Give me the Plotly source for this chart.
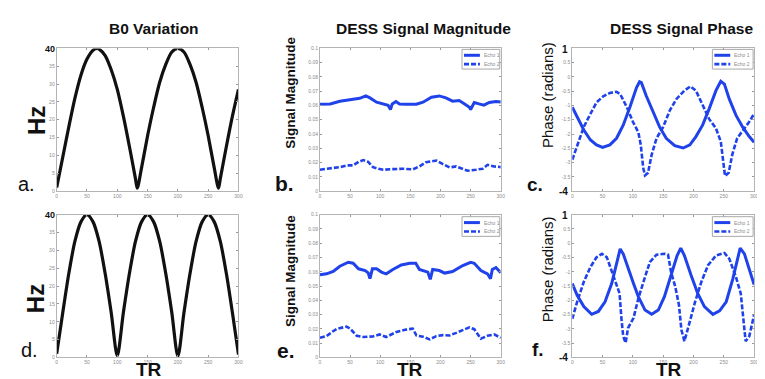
import plotly.graph_objects as go

# ---------------- DATA ----------------
# a. B0 variation (top row)
tr_b0_top = [0, 10, 20, 30, 40, 50, 60, 67, 70, 80, 90, 100, 110, 120, 130, 133,
             140, 150, 160, 170, 180, 190, 200, 210, 220, 230, 240, 250, 260, 267,
             270, 280, 290, 300]
hz_b0_top = [1, 9.5, 18, 26, 32.5, 37, 39.5, 40, 39.8, 38, 34, 28.5, 21, 12.5, 3.5, 0.8,
             6.5, 15.5, 23.5, 30.5, 35.5, 39, 40, 39, 35.5, 30.5, 23.5, 15.5, 6.5, 0.8,
             3.5, 12.5, 21, 28.5]

# d. B0 variation (bottom row)
tr_b0_bot = [0, 10, 20, 30, 40, 50, 60, 70, 80, 90, 100, 110, 120, 130, 140, 150,
             160, 170, 180, 190, 200, 210, 220, 230, 240, 250, 260, 270, 280, 290, 300]
hz_b0_bot = [1, 12.5, 23.5, 32.5, 38, 40, 38, 32.5, 23.5, 12.5, 0.5, 12.5, 23.5, 32.5, 38, 40,
             38, 32.5, 23.5, 12.5, 0.3, 12.5, 23.5, 32.5, 38, 40, 38, 32.5, 23.5, 12.5, 0.8]

# b. DESS signal magnitude (top row)
tr_mag1_top = [0, 17, 33, 50, 66, 76, 83, 94, 105, 113, 117, 120, 126, 132, 143, 160,
               171, 185, 198, 209, 220, 231, 240, 248, 250, 256, 264, 272, 281, 292, 300]
mag1_top = [0.0609, 0.0611, 0.0630, 0.0639, 0.0650, 0.0667, 0.0653, 0.0623, 0.0611, 0.0602,
            0.0572, 0.0611, 0.0628, 0.0611, 0.0609, 0.0609, 0.0623, 0.0658, 0.0667, 0.0653,
            0.0630, 0.0635, 0.0611, 0.0588, 0.0572, 0.0621, 0.0611, 0.0602, 0.0621, 0.0628,
            0.0625]
tr_mag2_top = [0, 17, 33, 44, 55, 64, 72, 80, 88, 97, 105, 121, 138, 154, 165, 176, 193,
               204, 215, 226, 237, 245, 259, 270, 278, 289, 300]
mag2_top = [0.0150, 0.0159, 0.0168, 0.0180, 0.0180, 0.0205, 0.0217, 0.0205, 0.0168, 0.0157,
            0.0150, 0.0154, 0.0157, 0.0152, 0.0173, 0.0203, 0.0214, 0.0189, 0.0166, 0.0173,
            0.0157, 0.0143, 0.0150, 0.0157, 0.0184, 0.0173, 0.0168]

# e. DESS signal magnitude (bottom row)
tr_mag1_bot = [0, 11, 22, 33, 47, 55, 64, 75, 80, 83, 87, 94, 102, 110, 121, 135, 149, 159,
               165, 179, 183, 187, 198, 207, 220, 237, 250, 256, 267, 278, 283, 286, 292, 300]
mag1_bot = [0.0579, 0.0586, 0.0602, 0.0639, 0.0667, 0.0660, 0.0621, 0.0609, 0.0593, 0.0552,
            0.0621, 0.0621, 0.0598, 0.0586, 0.0616, 0.0648, 0.0660, 0.0660, 0.0616, 0.0598,
            0.0547, 0.0616, 0.0609, 0.0591, 0.0602, 0.0644, 0.0667, 0.0660, 0.0609, 0.0586,
            0.0552, 0.0616, 0.0630, 0.0593]
tr_mag2_bot = [0, 11, 20, 28, 44, 50, 61, 72, 88, 99, 110, 127, 143, 154, 160, 171, 182, 193,
               204, 215, 226, 237, 248, 256, 267, 278, 289, 300]
mag2_bot = [0.0138, 0.0149, 0.0179, 0.0200, 0.0216, 0.0202, 0.0152, 0.0143, 0.0147, 0.0161,
            0.0143, 0.0179, 0.0195, 0.0202, 0.0154, 0.0145, 0.0126, 0.0149, 0.0156, 0.0154,
            0.0172, 0.0193, 0.0211, 0.0198, 0.0131, 0.0152, 0.0161, 0.0138]

# c. DESS signal phase (top row)
tr_ph1_top = [0, 8, 19, 30, 40, 50, 62, 73, 84, 95, 106, 111, 114, 122, 133, 144, 155, 169,
              183, 194, 204, 215, 226, 237, 245, 251, 259, 270, 281, 292, 300]
ph1_top = [-1.06, -1.40, -1.86, -2.21, -2.38, -2.47, -2.38, -2.15, -1.69, -1.06, -0.37, -0.17,
           -0.20, -0.66, -1.23, -1.75, -2.15, -2.41, -2.49, -2.38, -2.09, -1.69, -1.11, -0.48,
           -0.15, -0.25, -0.77, -1.34, -1.75, -2.09, -2.29]
tr_ph2_top = [0, 8, 19, 30, 40, 51, 62, 73, 79, 90, 100, 109, 113, 117, 120, 125, 131, 139,
              150, 161, 172, 185, 195, 204, 215, 226, 237, 245, 249, 252, 258, 264, 272, 281,
              292, 300]
ph2_top = [-2.90, -2.38, -1.75, -1.29, -0.89, -0.68, -0.56, -0.52, -0.60, -1.06, -1.57, -1.94,
           -2.38, -3.18, -3.45, -3.36, -2.72, -2.15, -1.75, -1.17, -0.77, -0.48, -0.33, -0.48,
           -1.00, -1.48, -1.80, -2.26, -2.95, -3.47, -3.36, -2.72, -2.15, -1.90, -1.57, -1.29]

# f. DESS signal phase (bottom row)
tr_ph1_bot = [0, 8, 19, 32, 43, 54, 65, 73, 79, 84, 92, 101, 109, 120, 131, 142, 152, 163,
              173, 179, 185, 196, 207, 218, 232, 243, 254, 265, 273, 277, 284, 292, 300]
ph1_bot = [-1.41, -1.82, -2.22, -2.49, -2.39, -2.05, -1.41, -0.66, -0.20, -0.37, -0.89, -1.41,
           -1.87, -2.34, -2.49, -2.34, -1.87, -1.12, -0.43, -0.17, -0.43, -1.12, -1.76, -2.22,
           -2.49, -2.37, -2.05, -1.24, -0.54, -0.17, -0.37, -0.95, -1.45]
tr_ph2_bot = [0, 8, 19, 30, 40, 49, 57, 65, 73, 78, 81, 84, 88, 92, 101, 109, 120, 128, 139,
              152, 158, 163, 170, 176, 180, 185, 194, 202, 213, 224, 237, 251, 259, 270, 278,
              281, 286, 292, 300]
ph2_bot = [-2.65, -2.05, -1.35, -0.83, -0.49, -0.37, -0.49, -0.95, -1.41, -1.76, -2.62, -3.26,
           -3.49, -2.97, -2.62, -1.93, -1.18, -0.66, -0.40, -0.37, -0.40, -1.01, -1.53, -2.16,
           -3.03, -3.43, -2.74, -2.10, -1.35, -0.77, -0.43, -0.34, -0.54, -1.18, -1.76, -2.39,
           -3.43, -3.26, -2.51]

titles = ["B0 Variation", "DESS Signal Magnitude", "DESS Signal Phase"]
panel_letters = ["a.", "b.", "c.", "d.", "e.", "f."]
echo_names = ["Echo 1", "Echo 2"]
x_ticks = [0, 50, 100, 150, 200, 250, 300]
hz_ticks = [0, 5, 10, 15, 20, 25, 30, 35, 40]
hz_ticktext = ["0", "5", "10", "15", "20", "25", "30", "35", ""]          # "40" drawn bold
mag_ticks = [0, 0.01, 0.02, 0.03, 0.04, 0.05, 0.06, 0.07, 0.08, 0.09, 0.1]
mag_ticktext = ["0", "0.01", "0.02", "0.03", "0.04", "0.05", "0.06", "0.07", "0.08", "0.09", "0.1"]
ph_ticks = [-4, -3.5, -3, -2.5, -2, -1.5, -1, -0.5, 0, 0.5, 1]
ph_ticktext = ["", "-3.5", "-3", "-2.5", "-2", "-1.5", "-1", "-0.5", "0", "0.5", ""]  # ends bold

# ---------------- LAYOUT HELPERS ----------------
W, H = 765, 379
def PX(x): return x / W
def PY(y): return 1 - y / H

col_px = [(48, 231), (313, 495), (567, 750)]
row_px = [(38, 183), (207, 352)]

BLUE = "#1f42ea"
FONT = "Liberation Sans, Arial, sans-serif"
AXCOL = "#b4b4b4"
TICKFONT = dict(family=FONT, size=5, color="#8c8c8c")
DASH = "5px,2px"

fig = go.Figure()

def ax_name(i):
    return "" if i == 1 else str(i)

def add_b0(idx, xs, ys):
    fig.add_trace(go.Scatter(x=xs, y=ys, mode="lines", showlegend=False,
                             line=dict(color="#111111", width=3.2, shape="spline", smoothing=0.8),
                             xaxis="x" + ax_name(idx), yaxis="y" + ax_name(idx)))

def add_echo(idx, xs1, ys1, xs2, ys2):
    fig.add_trace(go.Scatter(x=xs1, y=ys1, mode="lines", name=echo_names[0], showlegend=False,
                             line=dict(color=BLUE, width=3),
                             xaxis="x" + ax_name(idx), yaxis="y" + ax_name(idx)))
    fig.add_trace(go.Scatter(x=xs2, y=ys2, mode="lines", name=echo_names[1], showlegend=False,
                             line=dict(color=BLUE, width=2.6, dash=DASH),
                             xaxis="x" + ax_name(idx), yaxis="y" + ax_name(idx)))

add_b0(1, tr_b0_top, hz_b0_top)
add_echo(2, tr_mag1_top, mag1_top, tr_mag2_top, mag2_top)
add_echo(3, tr_ph1_top, ph1_top, tr_ph2_top, ph2_top)
add_b0(4, tr_b0_bot, hz_b0_bot)
add_echo(5, tr_mag1_bot, mag1_bot, tr_mag2_bot, mag2_bot)
add_echo(6, tr_ph1_bot, ph1_bot, tr_ph2_bot, ph2_bot)

yranges = [[0, 40], [0, 0.1], [-4, 1]]
yticks = [(hz_ticks, hz_ticktext), (mag_ticks, mag_ticktext), (ph_ticks, ph_ticktext)]

layout = dict(width=W, height=H, margin=dict(l=0, r=0, t=0, b=0),
              paper_bgcolor="white", plot_bgcolor="white", showlegend=False,
              font=dict(family=FONT))

for r in range(2):
    for c in range(3):
        idx = r * 3 + c + 1
        n = ax_name(idx)
        x0, x1 = col_px[c]
        y0, y1 = row_px[r]
        layout["xaxis" + n] = dict(domain=[PX(x0), PX(x1)], range=[0, 300], anchor="y" + n,
                                   tickvals=x_ticks, ticks="inside", ticklen=2, tickcolor="#999",
                                   showline=True, linecolor=AXCOL, linewidth=1, mirror="ticks",
                                   showgrid=False, zeroline=False, tickfont=TICKFONT)
        layout["yaxis" + n] = dict(domain=[PY(y1), PY(y0)], range=yranges[c], anchor="x" + n,
                                   tickvals=yticks[c][0], ticktext=yticks[c][1],
                                   ticks="inside", ticklen=2,
                                   tickcolor="#999", showline=True, linecolor=AXCOL, linewidth=1,
                                   mirror="ticks", showgrid=False, zeroline=False, tickfont=TICKFONT)

fig.update_layout(**layout)

ann = []
shapes = []
def A(text, x, y, size, bold=True, angle=0, xanchor="center", yanchor="middle", color="#111"):
    t = f"<b>{text}</b>" if bold else text
    ann.append(dict(text=t, x=PX(x), y=PY(y), xref="paper", yref="paper", showarrow=False,
                    textangle=angle, xanchor=xanchor, yanchor=yanchor, borderpad=0,
                    font=dict(family=FONT, size=size, color=color)))

# titles
A(titles[0], 146, 18, 15.5)
A(titles[1], 417, 18, 15.5)
A(titles[2], 677, 18, 15.5)
# y titles
for yc in (111, 292):
    A("Hz", 27, yc, 24, angle=-90)
for yc in (83, 264):
    A("Signal Magnitude", 284, yc, 13.5, angle=-90)
for yc in (85, 262):
    A("Phase (radians)", 542, yc, 15, bold=False, angle=-90)
# x titles
for xc in (141, 404, 664):
    A("TR", xc, 376, 19, yanchor="bottom")
# panel letters
A(panel_letters[0], 18, 176, 20, bold=False)
A(panel_letters[1], 277, 175, 21)
A(panel_letters[2], 529, 176, 19)
A(panel_letters[3], 21, 344, 20, bold=False)
A(panel_letters[4], 279, 345, 21)
A(panel_letters[5], 532, 344, 19)
# emphasized end tick labels
A("40", 47, 39, 9, xanchor="right")
A("40", 47, 207, 9, xanchor="right")
A("1", 564, 39, 10, xanchor="right")
A("-4", 564, 183, 10, xanchor="right")
A("1", 564, 208, 10, xanchor="right")
A("-4", 564, 352, 10, xanchor="right")

# compact legends (box, line samples, labels) in the top-right of b, c, e, f
def legend_box(x0, x1, ytop):
    shapes.append(dict(type="rect", xref="paper", yref="paper",
                       x0=PX(x0), x1=PX(x1), y0=PY(ytop + 20), y1=PY(ytop),
                       line=dict(color="#a8a8a8", width=1), fillcolor="white", layer="above"))
    for k, dash in enumerate(["solid", DASH]):
        yy = ytop + 6 + 9 * k
        shapes.append(dict(type="line", xref="paper", yref="paper",
                           x0=PX(x0 + 2), x1=PX(x0 + 18), y0=PY(yy), y1=PY(yy),
                           line=dict(color=BLUE, width=3 if k == 0 else 2.6, dash=dash),
                           layer="above"))
        ann.append(dict(text=echo_names[k], x=PX(x0 + 20), y=PY(yy), xref="paper", yref="paper",
                        showarrow=False, xanchor="left", yanchor="middle",
                        font=dict(family=FONT, size=5, color="#8c8c8c")))

legend_box(456, 494, 39)
legend_box(708, 749, 39)
legend_box(456, 494, 209)
legend_box(708, 749, 209)

fig.update_layout(annotations=ann, shapes=shapes)
fig.write_html("out.html")
